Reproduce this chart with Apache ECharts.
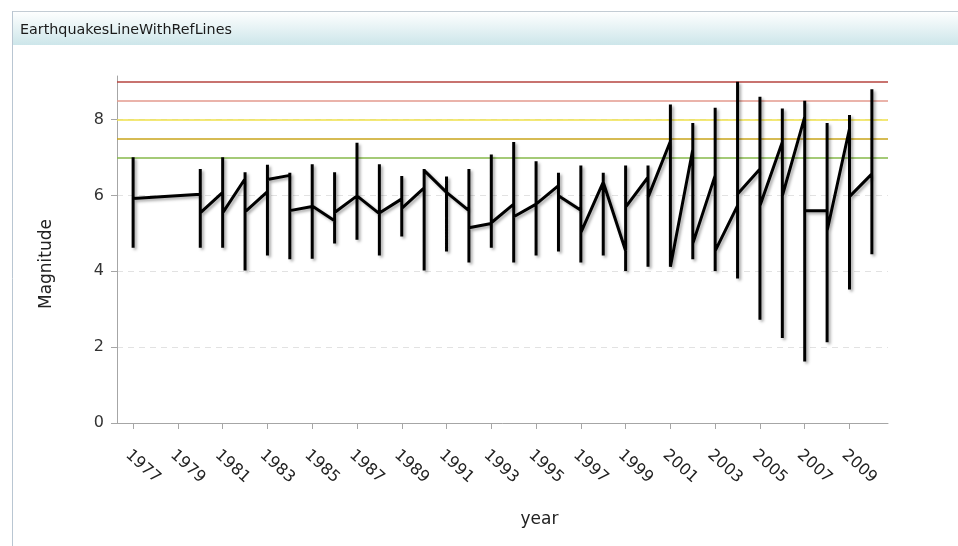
<!DOCTYPE html>
<html><head><meta charset="utf-8">
<script src="https://cdn.jsdelivr.net/npm/echarts@6/dist/echarts.min.js"></script>
<style>html,body{margin:0;padding:0;background:#fff}#c{width:958px;height:546px}</style>
</head><body><div id="c"></div>
<script>
// Earthquake magnitudes per year: value where the line enters the year, max, min, value where it leaves
const years    = [1977,1980,1981,1982,1983,1984,1985,1986,1987,1988,1989,1990,1991,1992,1993,1994,1995,1996,1997,1998,1999,2000,2001,2002,2003,2004,2005,2006,2007,2008,2009,2010];
const firstMag = [5.91,6.03,6.08,6.44,6.10,6.53,5.71,5.33,5.99,5.52,5.91,6.20,6.08,5.60,5.26,5.77,5.77,6.26,5.61,6.35,4.54,6.48,7.43,7.21,6.53,5.73,6.70,7.41,8.07,5.60,7.76,6.57];
const maxMag   = [7.01,6.70,7.01,6.61,6.81,6.60,6.82,6.61,7.39,6.82,6.51,6.70,6.50,6.70,7.08,7.41,6.90,6.60,6.79,6.60,6.79,6.79,8.40,7.91,8.31,9.00,8.60,8.29,8.50,7.91,8.12,8.80];
const minMag   = [4.62,4.62,4.62,4.02,4.42,4.32,4.33,4.73,4.83,4.42,4.92,4.02,4.52,4.23,4.62,4.23,4.42,4.52,4.23,4.42,4.01,4.12,4.12,4.32,4.01,3.81,2.72,2.24,1.62,2.13,3.52,4.45];
const lastMag  = [5.92,5.54,5.54,5.57,6.42,5.60,5.72,5.55,5.99,5.54,5.66,6.66,6.08,5.15,5.28,5.44,5.77,5.99,5.02,6.35,5.69,5.95,4.15,4.73,4.54,6.04,5.73,5.99,5.60,5.07,5.97,6.57];
const yearTicks = [1977,1979,1981,1983,1985,1987,1989,1991,1993,1995,1997,1999,2001,2003,2005,2007,2009];
const magTicks  = [0,2,4,6,8];
const refLevels = [7,7.5,8,8.5,9];
const refColors = ['#86b84a','#c9a51a','#efe14a','#e39a8e','#b6443f'];

const lineData = [];
years.forEach((y,i)=>{
  lineData.push([y, firstMag[i]]);
  lineData.push([y, maxMag[i]]);
  lineData.push([y, minMag[i]]);
  lineData.push([y, lastMag[i]]);
});

const FONT = 'DejaVu Sans';
const chart = echarts.init(document.getElementById('c'), null, {renderer:'canvas'});
chart.setOption({
  animation:false,
  backgroundColor:'#ffffff',
  graphic:[
    {type:'rect', shape:{x:12,y:11,width:946,height:34}, z:0,
     style:{fill:new echarts.graphic.LinearGradient(0,0,0,1,[{offset:0,color:'#ffffff'},{offset:1,color:'#cde6ea'}]), stroke:null}},
    {type:'line', shape:{x1:12,y1:11.5,x2:958,y2:11.5}, style:{stroke:'#c3ccd4',lineWidth:1}},
    {type:'line', shape:{x1:12.5,y1:11,x2:12.5,y2:546}, style:{stroke:'#b9c6d2',lineWidth:1}},
    {type:'text', x:20, y:30, style:{text:'EarthquakesLineWithRefLines', font:'14.3px "DejaVu Sans"', fill:'#1a1a1a', textVerticalAlign:'middle'}}
  ],
  grid:{left:117, right:70, top:76, bottom:123, containLabel:false},
  xAxis:{
    type:'value', min:1976.28, max:2010.72,
    name:'year', nameLocation:'middle', nameGap:88,
    nameTextStyle:{fontFamily:FONT, fontSize:17, color:'#222', padding:[0,0,0,74], verticalAlign:'top'},
    axisLine:{show:true, onZero:false, lineStyle:{color:'#a6a6a6', width:1}},
    axisTick:{show:true, length:6, customValues:yearTicks, lineStyle:{color:'#a6a6a6'}},
    axisLabel:{customValues:yearTicks, rotate:-42, margin:24, verticalAlign:'top', fontFamily:FONT, fontSize:16, color:'#222',
               formatter:v=>String(v)},
    splitLine:{show:false}
  },
  yAxis:{
    type:'value', min:0, max:9.15,
    name:'Magnitude', nameLocation:'middle', nameGap:62,
    nameTextStyle:{fontFamily:FONT, fontSize:17, color:'#222', padding:[0,29,0,0]},
    axisLine:{show:true, lineStyle:{color:'#a6a6a6', width:1}},
    axisTick:{show:true, length:6, customValues:magTicks, lineStyle:{color:'#a6a6a6'}},
    axisLabel:{customValues:magTicks, margin:13, fontFamily:FONT, fontSize:16, color:'#333'},
    splitLine:{show:true, lineStyle:{color:'#e2e2e2', type:[6,5], width:1}}
  },
  series:[
    {type:'line', data:[], z:1, silent:true,
     markLine:{silent:true, symbol:['none','none'], z:1, label:{show:false}, emphasis:{disabled:true},
       data:refLevels.map((v,i)=>({yAxis:v, lineStyle:{color:refColors[i], width:1.6, type:'solid'}}))}},
    {type:'line', data:lineData, z:5, showSymbol:false, symbol:'none', silent:true,
     lineStyle:{color:'#000', width:3, shadowColor:'rgba(0,0,0,0.35)', shadowBlur:3, shadowOffsetX:2, shadowOffsetY:2}}
  ]
});
</script></body></html>
